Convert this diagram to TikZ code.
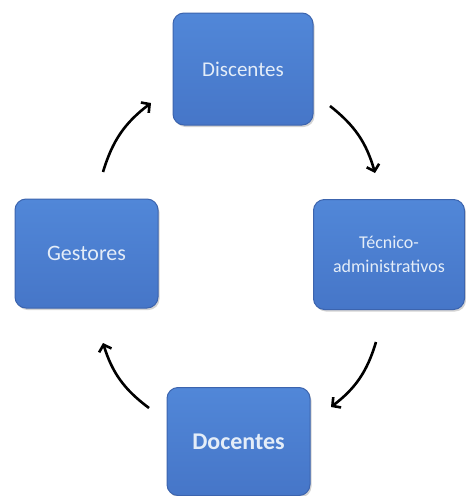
\documentclass[tikz,border=0pt]{standalone}
\usepackage{fontspec}
\setmainfont{Carlito}
\usepackage{tikz}
\usetikzlibrary{arrows.meta,shadows}

\definecolor{boxtop}{HTML}{5187D8}
\definecolor{boxbottom}{HTML}{4676C8}
\definecolor{boxedge}{HTML}{3C64AE}
\definecolor{boxtext}{HTML}{E4EDF8}

\tikzset{
  actor/.style={rectangle, rounded corners=11pt, draw=boxedge, line width=1pt,
    top color=boxtop, bottom color=boxbottom, text=boxtext, align=center,
    drop shadow={shadow xshift=1.5pt, shadow yshift=-2pt, opacity=0.35}},
  cycle/.style={line width=2.6pt, -{Straight Barb[length=6pt,width=13pt]}, bend left=18}
}

\begin{document}
\begin{tikzpicture}[x=1pt,y=-1pt]
    \useasboundingbox (0,0) rectangle (466,496);
		\node[actor,minimum width=140pt,minimum height=112pt,font=\fontsize{21}{25}\selectfont] (disc) at (243,69) {Discentes};
		\node[actor,minimum width=151pt,minimum height=110pt,font=\fontsize{18}{24}\selectfont] (tec) at (389,254.5) {Técnico-\\administrativos};
		\node[actor,minimum width=143pt,minimum height=108pt,font=\fontsize{24}{28}\selectfont\bfseries] (doc) at (238.5,441.5) {Docentes};
		\node[actor,minimum width=143pt,minimum height=109pt,font=\fontsize{22}{26}\selectfont] (gest) at (86.5,253.5) {Gestores};
		\coordinate (c1) at (330,106);
		\coordinate (c2) at (375,173);
		\coordinate (c3) at (376,342);
		\coordinate (c4) at (331,407);
		\coordinate (c5) at (149,408);
		\coordinate (c6) at (103,343);
		\coordinate (c7) at (103,172);
		\coordinate (c8) at (151,103);
		\draw[cycle] (c1) to (c2);
		\draw[cycle] (c3) to (c4);
		\draw[cycle] (c5) to (c6);
		\draw[cycle] (c7) to (c8);
	\end{tikzpicture}
\end{document}
